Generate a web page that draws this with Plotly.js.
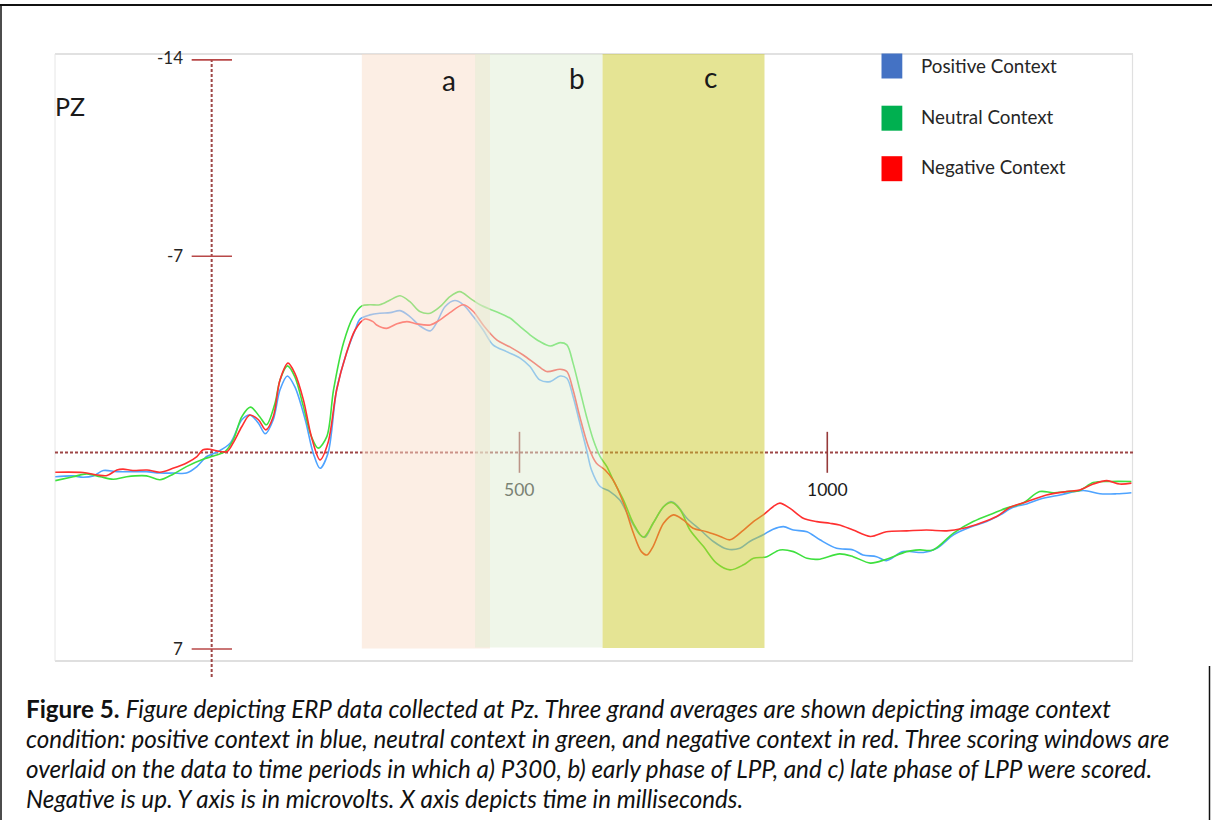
<!DOCTYPE html>
<html>
<head>
<meta charset="utf-8">
<script src="https://cdn.plot.ly/plotly-3.0.1.min.js"></script>
<style>
  html, body { margin: 0; padding: 0; background: #ffffff; }
  #chart { width: 1212px; height: 820px; }
</style>
</head>
<body>
<div id="chart"></div>
<script>
// ---------------- DATA (time in ms, amplitude in microvolts; negative is up) ----------------
const negTime = [-254,-209,-185,-170,-154,-144,-128,-105,-84,-63,-40,-24,-14,-3,8,25,35,49,62,76,88,100,111,124,135,149,162,176,189,203,219,233,249,262,268,284,301,317,333,355,371,387,409,425,441,463,485,506,528,544,566,577,587,598,612,625,639,652,669,685,698,707,717,734,750,766,782,804,826,842,864,880,896,912,923,939,961,983,1004,1020,1042,1070,1096,1129,1161,1194,1221,1248,1275,1297,1324,1356,1389,1410,1432,1454,1475,1494];
const negVolt = [0.70,0.71,0.80,0.82,0.62,0.59,0.64,0.62,0.70,0.56,0.36,0.14,-0.10,-0.12,-0.06,-0.04,-0.35,-0.93,-1.34,-1.17,-0.81,-1.28,-2.59,-3.19,-2.83,-1.88,-0.57,0.26,-0.35,-2.24,-3.55,-4.37,-4.76,-4.67,-4.55,-4.43,-4.59,-4.67,-4.59,-4.55,-4.73,-4.99,-5.27,-5.03,-4.55,-4.02,-3.76,-3.48,-3.13,-2.89,-2.97,-2.89,-2.24,-1.28,-0.21,0.38,0.62,0.97,1.80,2.87,3.53,3.65,3.35,2.52,2.22,2.40,2.70,2.82,2.99,3.11,2.76,2.46,2.22,1.93,1.80,1.98,2.34,2.46,2.52,2.58,2.76,2.99,2.82,2.79,2.76,2.79,2.70,2.52,2.28,1.95,1.75,1.51,1.39,1.33,1.12,1.00,1.12,1.09];

const posTime = [-254,-225,-209,-192,-176,-154,-127,-106,-84,-62,-41,-24,-8,8,30,49,62,76,87,100,111,123,135,152,165,176,189,203,219,233,241,257,273,290,306,322,338,355,365,379,395,409,425,441,457,479,501,517,533,550,566,577,587,598,609,617,631,647,663,679,696,704,717,734,745,755,772,794,815,837,858,874,896,912,929,945,967,988,1015,1042,1058,1080,1096,1123,1156,1178,1205,1232,1259,1281,1302,1324,1345,1378,1416,1443,1470,1494];
const posVolt = [0.86,0.83,0.88,0.83,0.64,0.68,0.68,0.68,0.73,0.73,0.73,0.50,0.14,-0.01,-0.33,-1.17,-1.34,-1.05,-0.67,-1.17,-2.24,-2.73,-2.35,-1.17,0.02,0.56,0.02,-2.24,-3.54,-4.37,-4.76,-4.91,-4.97,-4.99,-5.06,-4.85,-4.52,-4.34,-4.61,-5.20,-5.42,-5.27,-4.85,-4.37,-3.84,-3.60,-3.37,-3.07,-2.59,-2.53,-2.73,-2.65,-2.00,-1.05,-0.10,0.62,1.21,1.39,1.69,2.34,2.93,3.02,2.52,1.93,1.75,1.86,2.34,2.76,3.17,3.44,3.41,3.17,2.93,2.73,2.64,2.76,2.82,3.11,3.41,3.47,3.65,3.71,3.85,3.53,3.56,3.41,2.93,2.66,2.46,2.22,1.95,1.83,1.66,1.51,1.35,1.47,1.47,1.43];

const neuTime = [-254,-225,-203,-181,-160,-138,-106,-84,-62,-41,-14,3,22,35,49,63,78,89,103,111,123,135,149,162,173,187,198,214,230,244,257,273,290,306,322,338,355,371,387,403,420,436,452,468,485,501,517,533,550,566,577,587,598,609,620,631,642,652,669,685,701,717,734,747,761,777,799,820,842,864,880,902,923,945,967,988,1020,1042,1070,1096,1129,1150,1172,1205,1237,1270,1291,1318,1345,1367,1389,1410,1432,1459,1494];
const neuVolt = [1.00,0.86,0.76,0.86,0.95,0.86,0.83,0.97,0.76,0.50,0.24,0.12,-0.04,-0.45,-1.28,-1.62,-1.28,-0.99,-1.77,-2.59,-3.09,-2.71,-1.64,-0.57,-0.16,-0.57,-2.24,-3.90,-4.85,-5.23,-5.27,-5.27,-5.44,-5.59,-5.38,-5.03,-4.97,-5.20,-5.56,-5.74,-5.50,-5.27,-5.11,-4.97,-4.79,-4.49,-4.20,-3.96,-3.80,-3.92,-3.84,-3.19,-2.24,-1.28,-0.45,0.14,0.50,0.97,1.69,2.52,3.02,2.52,1.93,1.78,2.04,2.76,3.35,3.94,4.18,4.00,3.77,3.71,3.47,3.53,3.77,3.80,3.61,3.71,3.94,3.80,3.53,3.47,3.47,2.87,2.46,2.16,1.98,1.80,1.39,1.43,1.39,1.35,1.07,1.03,1.03];

const seriesNames = ["Positive Context", "Neutral Context", "Negative Context"];
const lineColors = ["#4ea3ff", "#3ee03e", "#ff3030"];
const legendColors = ["#4472C4", "#00B050", "#FF0000"];

const yTickVals = [-14, -7, 7];
const yTickText = ["-14", "-7", "7"];
const xTickVals = [500, 1000];
const xTickText = ["500", "1000"];

const windowNames = ["a", "b", "c"];
const windowStart = [244, 428, 635];
const windowEnd = [452, 635, 898];

const captionLines = [
  "<b>Figure 5.</b> <i>Figure depicting ERP data collected at Pz. Three grand averages are shown depicting image context</i>",
  "<i>condition: positive context in blue, neutral context in green, and negative context in red. Three scoring windows are</i>",
  "<i>overlaid on the data to time periods in which a) P300, b) early phase of LPP, and c) late phase of LPP were scored.</i>",
  "<i>Negative is up. Y axis is in microvolts. X axis depicts time in milliseconds.</i>"
];

// ---------------- LAYOUT HELPERS ----------------
const W = 1212, H = 820;
const px = x => x / W;
const py = y => (H - y) / H;

const traces = [
  {x: posTime, y: posVolt, name: seriesNames[0], color: lineColors[0]},
  {x: neuTime, y: neuVolt, name: seriesNames[1], color: lineColors[1]},
  {x: negTime, y: negVolt, name: seriesNames[2], color: lineColors[2]}
].map(s => ({
  type: "scatter", mode: "lines", x: s.x, y: s.y, name: s.name,
  line: {color: s.color, width: 1.6, shape: "spline", smoothing: 0.9},
  hoverinfo: "x+y+name", showlegend: false
}));

const shapes = [];
const darkRed = "#9e4646";
const tickRed = "#b84848";

// plot border
shapes.push({type: "line", xref: "paper", yref: "paper", x0: px(55), x1: px(1133), y0: py(54), y1: py(54), line: {color: "#c4c4c4", width: 1.2}, layer: "below"});
shapes.push({type: "line", xref: "paper", yref: "paper", x0: px(55), x1: px(1133), y0: py(661), y1: py(661), line: {color: "#c0c0c0", width: 1.2}, layer: "below"});
shapes.push({type: "line", xref: "paper", yref: "paper", x0: px(55), x1: px(55), y0: py(54), y1: py(661), line: {color: "#e6e6e6", width: 1}, layer: "below"});
shapes.push({type: "line", xref: "paper", yref: "paper", x0: px(1132.5), x1: px(1132.5), y0: py(54), y1: py(661), line: {color: "#e0e0e0", width: 1.2}, layer: "below"});

// outer frame
shapes.push({type: "line", xref: "paper", yref: "paper", x0: 0, x1: 1, y0: py(5), y1: py(5), line: {color: "#111", width: 2}});
shapes.push({type: "line", xref: "paper", yref: "paper", x0: px(1), x1: px(1), y0: py(5), y1: 0, line: {color: "#111", width: 1.5}});
shapes.push({type: "line", xref: "paper", yref: "paper", x0: px(1209.5), x1: px(1209.5), y0: py(666), y1: 0, line: {color: "#111", width: 1.5}});

// dashed zero lines
shapes.push({type: "line", xref: "x domain", yref: "y", x0: 0, x1: 1, y0: 0, y1: 0, line: {color: darkRed, width: 2, dash: "3px,2px"}, layer: "below"});
shapes.push({type: "line", xref: "x", yref: "paper", x0: 0, x1: 0, y0: py(677), y1: py(58), line: {color: darkRed, width: 2, dash: "3px,2px"}, layer: "below"});

// y tick marks
yTickVals.forEach(v => shapes.push({type: "line", xref: "x", yref: "y", x0: -32.5, x1: 33, y0: v, y1: v, line: {color: tickRed, width: 1.6}, layer: "below"}));
// x tick marks
xTickVals.forEach(v => shapes.push({type: "line", xref: "x", yref: "y", x0: v, x1: v, y0: -0.74, y1: 0.72, line: {color: "#963a3a", width: 1.6}, layer: "below"}));

// scoring windows (semi-transparent, above traces)
const winFill = ["rgb(249,221,201)", "rgb(223,237,211)", "rgb(203,201,41)"];
const winBottom = [6.98, 6.95, 6.97];
windowNames.forEach((n, i) => shapes.push({
  type: "rect", xref: "x", yref: "y", x0: windowStart[i], x1: windowEnd[i], y0: winBottom[i], y1: -14.21,
  fillcolor: winFill[i], opacity: 0.5, line: {width: 0}, layer: "above"
}));

// legend squares
const legSqY = [53.5, 105.7, 156.2];
legendColors.forEach((c, i) => shapes.push({
  type: "rect", xref: "paper", yref: "paper", x0: px(881.5), x1: px(902.3), y0: py(legSqY[i] + 25), y1: py(legSqY[i]),
  fillcolor: c, line: {width: 0}, layer: "above"
}));

// ---------------- ANNOTATIONS ----------------
const font = "Lato, 'Open Sans', sans-serif";
const ann = [];
const yTickLabelY = [58, 255, 648];
yTickText.forEach((t, i) => ann.push({
  xref: "paper", yref: "paper", x: px(185), y: py(yTickLabelY[i]), xanchor: "right", yanchor: "middle",
  text: t, showarrow: false, font: {family: font, size: 17, color: "#262626"}
}));
const xTickColors = ["#7a8274", "#1a1a1a"];
xTickText.forEach((t, i) => ann.push({
  xref: "x", yref: "paper", x: xTickVals[i], y: py(489), xanchor: "center", yanchor: "middle",
  text: t, showarrow: false, font: {family: font, size: 17.5, color: xTickColors[i]}
}));
ann.push({xref: "paper", yref: "paper", x: px(53), y: py(106), xanchor: "left", yanchor: "middle", text: "PZ", showarrow: false, font: {family: font, size: 25, color: "#1a1a1a"}});

const winLabelX = [448.5, 577, 710.5];
const winLabelY = [80, 78, 77];
windowNames.forEach((n, i) => ann.push({
  xref: "paper", yref: "paper", x: px(winLabelX[i]), y: py(winLabelY[i]), xanchor: "center", yanchor: "middle",
  text: n, showarrow: false, font: {family: font, size: 28, color: "#1a1a1a"}
}));

const legTextY = [66, 116, 167];
seriesNames.forEach((n, i) => ann.push({
  xref: "paper", yref: "paper", x: px(919), y: py(legTextY[i]), xanchor: "left", yanchor: "middle",
  text: n, showarrow: false, font: {family: font, size: 18.8, color: "#262626"}
}));

const capY = [708, 738, 768, 798];
captionLines.forEach((t, i) => ann.push({
  xref: "paper", yref: "paper", x: px(24), y: py(capY[i]), xanchor: "left", yanchor: "middle",
  text: t, showarrow: false, font: {family: font, size: 24.2, color: "#111"}
}));

const layout = {
  width: W, height: H,
  margin: {l: 0, r: 0, t: 0, b: 0},
  paper_bgcolor: "#ffffff", plot_bgcolor: "#ffffff",
  showlegend: false,
  xaxis: {domain: [px(55), px(1133)], range: [-254.5, 1496.6], visible: false, fixedrange: true},
  yaxis: {domain: [py(661), py(54)], range: [7.43, -14.21], visible: false, fixedrange: true},
  shapes: shapes,
  annotations: ann
};

Plotly.newPlot("chart", traces, layout, {displayModeBar: false, staticPlot: true});
</script>
</body>
</html>
